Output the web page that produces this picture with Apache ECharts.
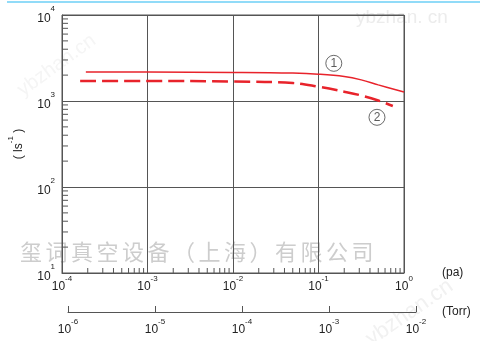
<!DOCTYPE html>
<html>
<head>
<meta charset="utf-8">
<script src="https://cdn.jsdelivr.net/npm/echarts@6/dist/echarts.min.js"></script>
<style>
html,body{margin:0;padding:0;background:#fff;}
#chart{width:480px;height:341px;}
</style>
</head>
<body>
<div id="chart"></div>
<script>
// ---- data ----
const curve1X = [1.9e-4, 1e-3, 1e-2, 0.05, 0.1, 0.2, 0.316, 0.5, 1.0];
const curve1Y = [2170, 2170, 2150, 2110, 2050, 1925, 1760, 1540, 1273];
const curve2X = [1.63e-4, 1e-3, 1e-2, 0.05, 0.1, 0.2, 0.316, 0.5, 0.74];
const curve2Y = [1710, 1710, 1686, 1618, 1466, 1283, 1159, 1013, 875];
const markerLabels = ['1', '2'];
const markerX = [0.151, 0.483];
const markerY = [2742, 646];
const paTickExps = ['-4', '-3', '-2', '-1', '0'];
const torrTickExps = ['-6', '-5', '-4', '-3', '-2'];
const yTickExps = ['1', '2', '3', '4'];
const minorMantissas = [2, 3, 4, 5, 6, 7, 8, 9];
const paName = '(pa)';
const torrName = '(Torr)';
const watermark = '玺词真空设备（上海）有限公司';

const red = '#e8232b';
const gridColor = '#555';
const FONT = '"Liberation Sans", Arial, sans-serif';

function supFmt(exps) {
  return function (v) {
    const e = Math.round(Math.log10(v));
    const idx = exps.indexOf(String(e));
    const ex = idx >= 0 ? exps[idx] : String(e);
    return '{b|10}{s|' + ex + '}';
  };
}
const richX = {
  b: { fontSize: 12, lineHeight: 18, verticalAlign: 'bottom', fontFamily: FONT, color: '#222' },
  s: { fontSize: 8, lineHeight: 8, verticalAlign: 'top', fontFamily: FONT, color: '#222' }
};
const richY = {
  b: { fontSize: 12, lineHeight: 20, verticalAlign: 'bottom', fontFamily: FONT, color: '#222' },
  s: { fontSize: 8, lineHeight: 9, verticalAlign: 'top', fontFamily: FONT, color: '#222' }
};

// minor tick positions (axis structure)
const xMinor = [];
paTickExps.slice(0, -1).forEach(e => minorMantissas.forEach(m => xMinor.push([m * Math.pow(10, +e), 10])));
const yMinor = [];
yTickExps.slice(0, -1).forEach(e => minorMantissas.forEach(m => yMinor.push([1e-4, m * Math.pow(10, +e)])));

const chart = echarts.init(document.getElementById('chart'), null, { renderer: 'canvas' });

const wmEls = watermark.split('').map((ch, i) => ({
  type: 'text', z: -1, left: 20 + i * 25.5, top: 241,
  style: { text: ch, fontSize: 22, fill: '#cdcdcd', fontFamily: '"Noto Sans CJK SC", sans-serif' }
}));

chart.setOption({
  animation: false,
  backgroundColor: '#fff',
  textStyle: { fontFamily: FONT },
  graphic: [
    { type: 'line', shape: { x1: 7, y1: 2, x2: 480, y2: 2 }, style: { stroke: '#6dcff6', lineWidth: 1.5 }, z: 10 },
    { type: 'text', z: -1, left: 356, top: 8, style: { text: 'ybzhan. cn', fontSize: 19, fill: '#ececec', fontFamily: FONT } },
    { type: 'text', z: -1, x: 14, y: 84, rotation: Math.PI / 5, style: { text: 'ybzhan.cn', fontSize: 20, fill: '#f5f5f5', fontFamily: FONT } },
    { type: 'text', z: -1, x: 362, y: 332, rotation: Math.PI / 5.2, style: { text: 'ybzhan.cn', fontSize: 22, fill: '#f1f1f1', fontFamily: FONT } }
  ].concat(wmEls),
  grid: [
    { left: 62, top: 15, width: 342, height: 258, show: true, borderColor: gridColor, borderWidth: 1,
      backgroundColor: 'transparent', containLabel: false, outerBoundsMode: 'none' },
    { left: 68, top: 311, width: 348, height: 1, containLabel: false, outerBoundsMode: 'none' }
  ],
  xAxis: [
    {
      type: 'log', logBase: 10, min: 1e-4, max: 1, gridIndex: 0,
      name: paName, nameLocation: 'end', nameGap: 38,
      nameTextStyle: { fontSize: 12, color: '#222', fontFamily: FONT, padding: [24, 0, 0, 0] },
      axisLine: { show: true, lineStyle: { color: gridColor, width: 1 } },
      axisTick: { show: false },
      splitLine: { show: true, lineStyle: { color: gridColor, width: 1 } },
      axisLabel: { margin: 2, formatter: supFmt(paTickExps), rich: richX }
    },
    {
      type: 'log', logBase: 10, min: 1e-6, max: 1e-2, gridIndex: 1,
      name: torrName, nameLocation: 'end', nameGap: 26,
      nameTextStyle: { fontSize: 12, color: '#222', fontFamily: FONT, padding: [32, 0, 0, 0] },
      axisLine: { show: true, lineStyle: { color: gridColor, width: 1 } },
      axisTick: { show: true, inside: true, length: 6, lineStyle: { color: gridColor } },
      splitLine: { show: false },
      axisLabel: { margin: 6, formatter: supFmt(torrTickExps), rich: richX }
    }
  ],
  yAxis: [
    {
      type: 'log', logBase: 10, min: 10, max: 1e4, gridIndex: 0,
      name: '{t|( ls}{s|-1}{t| )}', nameLocation: 'middle', nameGap: 37, nameRotate: 90,
      nameTextStyle: {
        rich: {
          t: { fontSize: 12, lineHeight: 18, verticalAlign: 'bottom', fontFamily: FONT, color: '#222' },
          s: { fontSize: 8, lineHeight: 8, verticalAlign: 'top', fontFamily: FONT, color: '#222' }
        }
      },
      axisLine: { show: true, lineStyle: { color: gridColor, width: 1 } },
      axisTick: { show: false },
      splitLine: { show: true, lineStyle: { color: gridColor, width: 1 } },
      axisLabel: { margin: 7, formatter: supFmt(yTickExps), rich: richY }
    },
    { type: 'value', gridIndex: 1, show: false }
  ],
  series: [
    {
      type: 'custom', xAxisIndex: 0, yAxisIndex: 0, silent: true, clip: false, z: 3,
      data: xMinor,
      renderItem: function (params, api) {
        const p = api.coord([api.value(0), api.value(1)]);
        return { type: 'line', shape: { x1: p[0], y1: p[1], x2: p[0], y2: p[1] - 5 }, style: { stroke: gridColor, lineWidth: 1 } };
      }
    },
    {
      type: 'custom', xAxisIndex: 0, yAxisIndex: 0, silent: true, clip: false, z: 3,
      data: yMinor,
      renderItem: function (params, api) {
        const p = api.coord([api.value(0), api.value(1)]);
        return { type: 'line', shape: { x1: p[0], y1: p[1], x2: p[0] + 6, y2: p[1] }, style: { stroke: gridColor, lineWidth: 1 } };
      }
    },
    {
      type: 'line', xAxisIndex: 0, yAxisIndex: 0, smooth: 0.4, symbol: 'none', z: 5,
      lineStyle: { color: red, width: 1.5 },
      data: curve1X.map((x, i) => [x, curve1Y[i]])
    },
    {
      type: 'line', xAxisIndex: 0, yAxisIndex: 0, smooth: 0.4, symbol: 'none', z: 5,
      lineStyle: { color: red, width: 2.5, type: [16, 6] },
      data: curve2X.map((x, i) => [x, curve2Y[i]])
    },
    {
      type: 'scatter', xAxisIndex: 0, yAxisIndex: 0, symbol: 'circle', symbolSize: 16, z: 6,
      itemStyle: { color: '#fff', borderColor: '#444', borderWidth: 1 },
      label: { show: true, position: 'inside', formatter: p => markerLabels[p.dataIndex], fontSize: 12, color: '#333', fontFamily: FONT },
      data: markerX.map((x, i) => [x, markerY[i]])
    }
  ]
});
</script>
</body>
</html>
